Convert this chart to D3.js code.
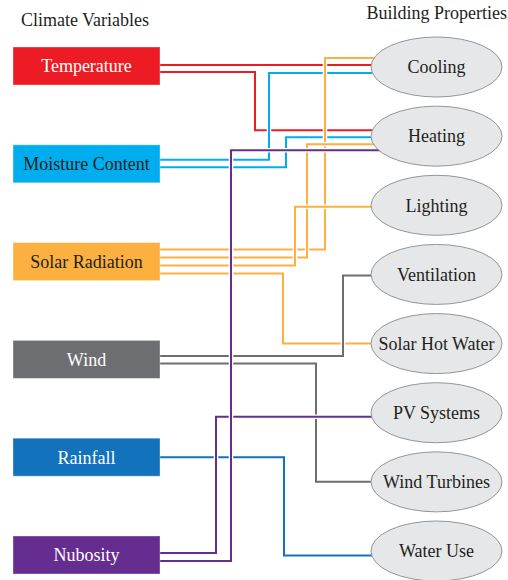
<!DOCTYPE html>
<html>
<head>
<meta charset="utf-8">
<script src="https://cdn.jsdelivr.net/npm/d3@7"></script>
<style>
  body { margin: 0; background: #fff; }
  svg { display: block; font-family: "Liberation Serif", "DejaVu Serif", serif; }
</style>
</head>
<body>
<svg id="chart" width="508" height="580"></svg>
<script>
// climate variables (left column) and building properties (right column)
const variables = ['Temperature', 'Moisture Content', 'Solar Radiation', 'Wind', 'Rainfall', 'Nubosity'];
const properties = ['Cooling', 'Heating', 'Lighting', 'Ventilation', 'Solar Hot Water', 'PV Systems', 'Wind Turbines', 'Water Use'];

// which variable feeds which property
const links = [
  ['Temperature', 'Cooling'],
  ['Temperature', 'Heating'],
  ['Moisture Content', 'Cooling'],
  ['Moisture Content', 'Heating'],
  ['Solar Radiation', 'Cooling'],
  ['Solar Radiation', 'Heating'],
  ['Solar Radiation', 'Lighting'],
  ['Solar Radiation', 'Solar Hot Water'],
  ['Wind', 'Ventilation'],
  ['Wind', 'Wind Turbines'],
  ['Rainfall', 'Water Use'],
  ['Nubosity', 'PV Systems'],
  ['Nubosity', 'Heating']
];

const svg = d3.select('#chart');

const color = d3.scaleOrdinal()
  .domain(variables)
  .range(['#ed1c24', '#00aeef', '#fbb040', '#6d6e71', '#1272bc', '#662d91']);
const darkText = new Set(['Moisture Content', 'Solar Radiation']);

// vertical placement of both columns
const yVar = d3.scalePoint().domain(variables).range([66, 555]);
const yProp = d3.scalePoint().domain(properties).range([67, 551]);

const box = { x: 13, w: 147, h: 38 };
const ell = { cx: 436.5, rx: 65.5, ry: 30 };
const fontSize = '18px';

// routing of each connector: x of the vertical run, offset where it leaves the box
// and offset where it reaches the ellipse
const route = {
  'Temperature>Cooling':       { lane: null, out: -1,  inn: -1 },
  'Temperature>Heating':       { lane: 255,  out: 6,   inn: -6 },
  'Moisture Content>Cooling':  { lane: 269,  out: -4,  inn: 6 },
  'Moisture Content>Heating':  { lane: 286,  out: 3.5, inn: 1 },
  'Solar Radiation>Cooling':   { lane: 325,  out: -12, inn: -9 },
  'Solar Radiation>Heating':   { lane: 307,  out: -4,  inn: 8 },
  'Solar Radiation>Lighting':  { lane: 295,  out: 4,   inn: 1.5 },
  'Solar Radiation>Solar Hot Water': { lane: 283, out: 12, inn: 0 },
  'Wind>Ventilation':          { lane: 343,  out: -3.5, inn: 1 },
  'Wind>Wind Turbines':        { lane: 316,  out: 4,   inn: 0 },
  'Rainfall>Water Use':        { lane: 284,  out: 0,   inn: 4.5 },
  'Nubosity>PV Systems':       { lane: 216,  out: -2,  inn: 4 },
  'Nubosity>Heating':          { lane: 231,  out: 6,   inn: 14 }
};

const linkPath = d => {
  const r = route[d[0] + '>' + d[1]];
  const y0 = yVar(d[0]) + r.out;
  const y1 = yProp(d[1]) + r.inn;
  const x0 = box.x + box.w;
  if (r.lane === null) return `M${x0},${y0}H${ell.cx}`;
  return `M${x0},${y0}H${r.lane}V${y1}H${ell.cx}`;
};

// connectors: white casing under each coloured line
const linkG = svg.append('g');
links.forEach(d => {
  linkG.append('path')
    .attr('d', linkPath(d))
    .attr('fill', 'none')
    .attr('stroke', '#fff')
    .attr('stroke-width', 4.5);
  linkG.append('path')
    .attr('d', linkPath(d))
    .attr('fill', 'none')
    .attr('stroke', color(d[0]))
    .attr('stroke-width', 2);
});

// left boxes
const boxes = svg.append('g')
  .selectAll('g')
  .data(variables)
  .join('g');

boxes.append('rect')
  .attr('x', box.x)
  .attr('y', d => yVar(d) - box.h / 2)
  .attr('width', box.w)
  .attr('height', box.h)
  .attr('fill', d => color(d))
  .attr('stroke', 'rgba(255,255,255,0.35)')
  .attr('stroke-width', 1);

boxes.append('text')
  .attr('x', box.x + box.w / 2)
  .attr('y', d => yVar(d))
  .attr('dy', '0.35em')
  .attr('text-anchor', 'middle')
  .style('font-size', fontSize)
  .attr('fill', d => darkText.has(d) ? '#231f20' : '#fff')
  .text(d => d);

// right ellipses
const nodes = svg.append('g')
  .selectAll('g')
  .data(properties)
  .join('g');

nodes.append('ellipse')
  .attr('cx', ell.cx)
  .attr('cy', d => yProp(d))
  .attr('rx', ell.rx)
  .attr('ry', ell.ry)
  .attr('fill', '#e6e7e8')
  .attr('stroke', '#939598')
  .attr('stroke-width', 1);

nodes.append('text')
  .attr('x', ell.cx)
  .attr('y', d => yProp(d))
  .attr('dy', '0.35em')
  .attr('text-anchor', 'middle')
  .style('font-size', fontSize)
  .attr('fill', '#231f20')
  .text(d => d);

// column headings
svg.append('text')
  .attr('x', 85)
  .attr('y', 26)
  .attr('text-anchor', 'middle')
  .style('font-size', fontSize)
  .attr('fill', '#231f20')
  .text('Climate Variables');

svg.append('text')
  .attr('x', 507)
  .attr('y', 19)
  .attr('text-anchor', 'end')
  .style('font-size', fontSize)
  .attr('fill', '#231f20')
  .text('Building Properties');
</script>
</body>
</html>
